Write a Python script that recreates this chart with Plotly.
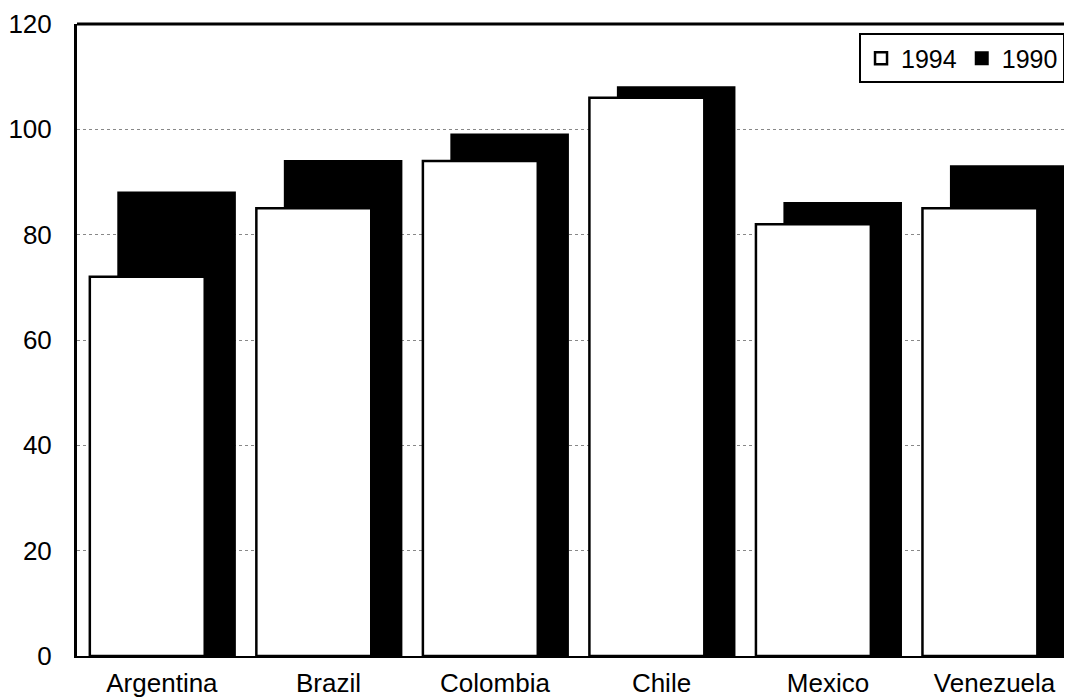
import plotly.graph_objects as go

countries = ["Argentina", "Brazil", "Colombia", "Chile", "Mexico", "Venezuela"]
values_1994 = [72, 85, 94, 106, 82, 85]
values_1990 = [88, 94, 99, 108, 86, 93]
y_ticks = [0, 20, 40, 60, 80, 100, 120]

pos = list(range(len(countries)))
half_shift = 0.088
pos_1994 = [p - half_shift for p in pos]
pos_1990 = [p + half_shift for p in pos]

font_family = "Liberation Sans, Arial, sans-serif"

fig = go.Figure()
fig.add_trace(go.Bar(
    x=pos_1990, y=values_1990, name="1990", width=0.70,
    marker=dict(color="black", line=dict(color="black", width=2)),
))
fig.add_trace(go.Bar(
    x=pos_1994, y=values_1994, name="1994", width=0.69,
    marker=dict(color="white", line=dict(color="black", width=2.5)),
))

# page body has an 8px default margin, so the figure is 8px smaller
fig.update_layout(
    width=1064, height=690,
    margin=dict(l=69, r=0, t=16, b=42),
    paper_bgcolor="white", plot_bgcolor="white",
    barmode="overlay",
    font=dict(family=font_family, size=26, color="black"),
    showlegend=True,
    legend=dict(
        orientation="h", traceorder="reversed",
        x=0.993, xanchor="right", y=0.985, yanchor="top",
        bgcolor="white", bordercolor="black", borderwidth=2,
        font=dict(size=25), itemwidth=30,
        tracegroupgap=0,
    ),
    xaxis=dict(
        range=[-0.51, 5.465],
        tickmode="array", tickvals=pos, ticktext=countries,
        showgrid=False, zeroline=False,
        showline=True, linecolor="black", linewidth=2,
        ticks="", ticklabelstandoff=3, tickfont=dict(size=26), automargin=False,
    ),
    yaxis=dict(
        range=[0, 120],
        tickmode="array", tickvals=y_ticks,
        showgrid=True, gridcolor="#888888", griddash="dot", gridwidth=1,
        zeroline=False,
        showline=True, linecolor="black", linewidth=3,
        ticks="", ticklabelstandoff=17, tickfont=dict(size=26), automargin=False,
    ),
    shapes=[dict(type="line", xref="paper", yref="paper", x0=0, x1=1, y0=1, y1=1,
                 line=dict(color="black", width=3))],
)

fig.write_html("out.html")
